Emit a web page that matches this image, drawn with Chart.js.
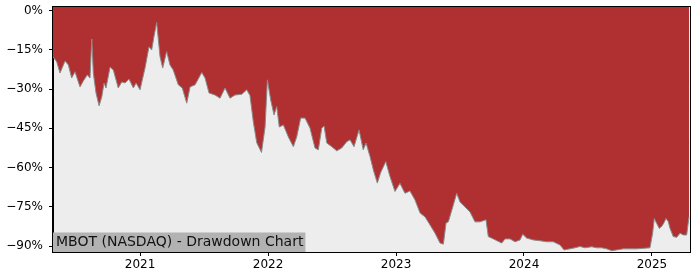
<!DOCTYPE html>
<html>
<head>
<meta charset="utf-8">
<style>
  body { margin: 0; background: #fff; }
</style>
</head>
<body>
<canvas id="myChart" width="700" height="280"></canvas>
<script src="https://cdn.jsdelivr.net/npm/chart.js@4.4.1/dist/chart.umd.min.js"></script>
<script>
  // dates as decimal years, drawdown in percent
  const years = [
    2020.320, 2020.349, 2020.375, 2020.414, 2020.440, 2020.466, 2020.492, 2020.531, 2020.557, 2020.588,
    2020.609, 2020.623, 2020.635, 2020.656, 2020.680, 2020.701, 2020.719, 2020.734, 2020.766, 2020.791,
    2020.830, 2020.857, 2020.883, 2020.914, 2020.948, 2020.969, 2021.000, 2021.039, 2021.070, 2021.091,
    2021.109, 2021.130, 2021.156, 2021.177, 2021.208, 2021.234, 2021.259, 2021.299, 2021.330, 2021.365,
    2021.391, 2021.430, 2021.482, 2021.508, 2021.539, 2021.586, 2021.625, 2021.664, 2021.703, 2021.742,
    2021.795, 2021.834, 2021.859, 2021.885, 2021.912, 2021.949, 2021.977, 2021.995, 2022.021, 2022.047,
    2022.068, 2022.088, 2022.120, 2022.159, 2022.198, 2022.224, 2022.255, 2022.289, 2022.328, 2022.367,
    2022.393, 2022.420, 2022.438, 2022.459, 2022.498, 2022.537, 2022.576, 2022.615, 2022.641, 2022.672,
    2022.711, 2022.744, 2022.766, 2022.797, 2022.823, 2022.854, 2022.880, 2022.920, 2022.953, 2022.992,
    2023.031, 2023.070, 2023.109, 2023.148, 2023.188, 2023.227, 2023.266, 2023.305, 2023.344, 2023.370,
    2023.391, 2023.409, 2023.448, 2023.474, 2023.500, 2023.539, 2023.578, 2023.617, 2023.656, 2023.703,
    2023.721, 2023.760, 2023.826, 2023.852, 2023.891, 2023.930, 2023.969, 2023.990, 2024.021, 2024.073,
    2024.125, 2024.177, 2024.229, 2024.281, 2024.313, 2024.359, 2024.398, 2024.438, 2024.477, 2024.529,
    2024.568, 2024.607, 2024.646, 2024.685, 2024.724, 2024.776, 2024.828, 2024.880, 2024.932, 2024.984,
    2025.005, 2025.018, 2025.037, 2025.057, 2025.078, 2025.094, 2025.109, 2025.127, 2025.141, 2025.166,
    2025.193, 2025.219, 2025.245, 2025.271, 2025.289
  ]
  const drawdown = [
    -17.7, -19.6, -23.9, -19.3, -20.8, -25.8, -23.4, -29.2, -26.9, -24.6,
    -25.8, -10.9, -23.9, -31.5, -36.4, -33.0, -27.7, -29.6, -21.6, -22.7,
    -29.6, -27.3, -27.7, -26.2, -29.6, -27.7, -30.3, -22.0, -13.9, -15.1,
    -10.0, -4.6, -17.6, -22.0, -15.7, -20.8, -22.7, -28.4, -29.6, -35.4,
    -29.2, -28.4, -23.7, -25.8, -31.5, -32.3, -33.5, -29.6, -33.5, -32.3,
    -32.0, -30.3, -32.5, -42.5, -50.5, -54.2, -44.5, -26.5, -34.2, -39.9,
    -36.7, -44.5, -43.7, -48.3, -52.0, -48.3, -41.1, -41.1, -44.9, -52.5,
    -53.2, -44.9, -44.1, -50.6, -52.0, -53.6, -52.5, -50.1, -49.4, -52.0,
    -45.6, -53.2, -50.6, -55.8, -60.9, -65.9, -61.9, -57.7, -63.4, -69.1,
    -66.0, -69.8, -68.9, -72.3, -77.3, -78.8, -81.9, -85.0, -88.8, -89.2,
    -81.1, -80.7, -74.2, -69.8, -73.1, -75.0, -76.9, -80.7, -80.7, -79.9,
    -86.3, -87.2, -88.8, -87.2, -87.2, -88.3, -87.6, -85.4, -86.9, -87.6,
    -87.9, -88.3, -88.3, -89.5, -91.4, -91.0, -90.6, -90.1, -90.6, -90.2,
    -90.6, -90.6, -91.0, -91.7, -91.4, -91.0, -91.0, -91.0, -90.8, -90.6,
    -85.0, -79.4, -81.3, -83.2, -82.3, -81.0, -79.4, -80.6, -83.2, -86.3,
    -86.6, -85.0, -85.7, -85.7, -78.8
  ]
  const yTicks = [0, -15, -30, -45, -60, -75, -90]
  const xTicks = [2021, 2022, 2023, 2024, 2025]
  const chartLabel = 'MBOT (NASDAQ) - Drawdown Chart'

  const points = years.map((x, i) => ({x: x, y: drawdown[i]}))

  // light grey axes background, black frame, label box in the lower left
  const frame = {
    id: 'frame',
    beforeDraw(chart) {
      const a = chart.chartArea, c = chart.ctx
      c.save()
      c.fillStyle = '#ededed'
      c.fillRect(a.left, a.top, a.right - a.left, a.bottom - a.top)
      c.restore()
    },
    afterDraw(chart) {
      const a = chart.chartArea, c = chart.ctx
      c.save()
      c.font = '14px "DejaVu Sans"'
      const w = c.measureText(chartLabel).width
      c.fillStyle = '#b2b2b2'
      c.fillRect(a.left, a.bottom - 19.5, w + 5, 19.5)
      c.fillStyle = '#111'
      c.textBaseline = 'middle'
      c.fillText(chartLabel, a.left + 3, a.bottom - 9.5)
      c.strokeStyle = '#000'
      c.lineWidth = 1
      c.strokeRect(a.left - 0.5, a.top - 0.5, a.right - a.left + 1, a.bottom - a.top + 1)
      c.restore()
    }
  }

  Chart.defaults.font.family = '"DejaVu Sans"'
  Chart.defaults.font.size = 12
  Chart.defaults.color = '#000'

  const ctx = document.getElementById('myChart').getContext('2d')
  const drawdownChart = new Chart(ctx, {
    type: 'line',
    data: {
      datasets: [{
        data: points,
        borderColor: '#8a8a8a',
        borderWidth: 1,
        backgroundColor: '#b03032',
        fill: 'end',
        pointRadius: 0,
        tension: 0
      }]
    },
    options: {
      responsive: false,
      animation: false,
      layout: { padding: { top: 7, right: 10, left: 0, bottom: 0 } },
      plugins: { legend: { display: false }, tooltip: { enabled: false } },
      scales: {
        x: {
          type: 'linear',
          min: 2020.320,
          max: 2025.297,
          afterBuildTicks: s => { s.ticks = xTicks.map(v => ({value: v})) },
          afterFit: s => { s.height = 28; s.paddingLeft = 0; s.paddingRight = 0 },
          ticks: { callback: v => String(v), maxRotation: 0, padding: 2 },
          grid: { drawOnChartArea: false, tickLength: 4, color: '#000' },
          border: { color: '#000' }
        },
        y: {
          min: -92.2,
          max: 1.3,
          afterBuildTicks: s => { s.ticks = yTicks.map(v => ({value: v})) },
          afterFit: s => { s.width = 53; s.paddingTop = 0; s.paddingBottom = 0 },
          ticks: { callback: v => (v < 0 ? '\u2212' + (-v) : v) + '%', padding: 6 },
          grid: { drawOnChartArea: false, tickLength: 4, color: '#000' },
          border: { color: '#000' }
        }
      }
    },
    plugins: [frame]
  })
</script>
</body>
</html>
